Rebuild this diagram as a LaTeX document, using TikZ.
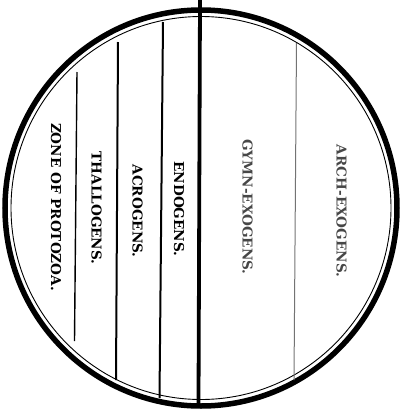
\documentclass[tikz,border=0pt]{standalone}
\usepackage{fontspec}
\newfontfamily\zonefont{DejaVu Serif}
\usepackage{tikz}
\usetikzlibrary{positioning}
\tikzset{
  zone/.style={rotate=-90, inner sep=0pt, font=\zonefont\bfseries\fontsize{13.6}{13.6}\selectfont},
  faded/.style={zone, text=black!72},
  ring/.style={line width=5.5pt},
  innerring/.style={line width=0.9pt},
  axisline/.style={line width=3.8pt},
  divider/.style={line width=2pt},
  thindivider/.style={line width=1.4pt},
  greydivider/.style={line width=1pt, black!55}
}

\begin{document}
\begin{tikzpicture}[x=1pt, y=-1pt]
    \useasboundingbox (0,0) rectangle (403,413);
    \coordinate (c) at (201,208);

    % the two rings
    \draw[ring] (c) ellipse [x radius=196, y radius=198];
    \draw[innerring] (c) ellipse [x radius=190, y radius=191.5];

    % dividing lines
    \coordinate (axtop) at (200,0);
    \coordinate (axbot) at (198.5,403);
    \draw[axisline] (axtop) -- (axbot);
    \coordinate (endotop) at (163,22);
    \coordinate (endobot) at (159.5,398);
    \draw[divider] (endotop) -- (endobot);
    \coordinate (acrotop) at (118,42);
    \coordinate (acrobot) at (116,380);
    \draw[divider] (acrotop) -- (acrobot);
    \coordinate (thaltop) at (77,72);
    \coordinate (thalbot) at (74.5,341);
    \draw[thindivider] (thaltop) -- (thalbot);
    \coordinate (archtop) at (296.5,43);
    \coordinate (archbot) at (294,380);
    \draw[greydivider] (archtop) -- (archbot);

    % zone names
    \node[zone] (protozoa) at (56,207) {ZONE OF PROTOZOA.};
    \node[zone] (thallo) at (96.5,208) {THALLOGENS.};
    \node[zone] (acro) at (137.5,211) {ACROGENS.};
    \node[zone] (endo) at (179,209) {ENDOGENS.};
    \node[faded] (gymn) at (247.5,207) {GYMN-EXOGENS.};
    \node[faded] (arch) at (341.5,211) {ARCH-EXOGENS.};
\end{tikzpicture}
\end{document}
